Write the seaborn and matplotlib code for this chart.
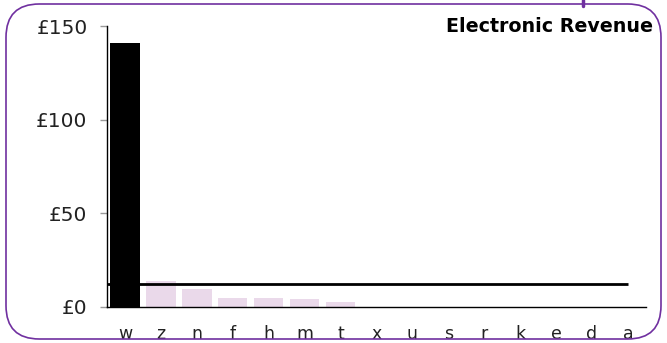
import numpy as np
import pandas as pd
import matplotlib
matplotlib.use("Agg")
import matplotlib.pyplot as plt
from matplotlib.patches import FancyBboxPatch
import seaborn as sns

# data
categories = ["w", "z", "n", "f", "h", "m", "t", "x", "u", "s", "r", "k", "e", "d", "a"]
revenue    = [141.0, 13.9, 9.6, 5.0, 4.6, 4.1, 2.7, 0, 0, 0, 0, 0, 0, 0, 0]
y_ticks    = [0, 50, 100, 150]
title      = "Electronic Revenue"

BAR_MAIN  = "#000000"
BAR_OTHER = "#ead9ea"
PURPLE    = "#7030a0"

sns.set_style("white")
plt.rcParams["font.family"] = ["DejaVu Sans"]

df = pd.DataFrame({"cat": categories, "rev": revenue})
palette = {c: (BAR_MAIN if i == 0 else BAR_OTHER) for i, c in enumerate(categories)}

fig = plt.figure(figsize=(6.67, 3.43), dpi=100)
ax = fig.add_axes([0.1604, 0.105, 0.808, 0.819])

sns.barplot(data=df, x="cat", y="rev", hue="cat", palette=palette,
            order=categories, legend=False, width=0.82, saturation=1,
            linewidth=0, ax=ax, zorder=2)

avg = np.mean(revenue)
ax.hlines(avg, -0.5, len(categories) - 1, color="black", lw=2, zorder=3)

ax.set_xlim(-0.5, len(categories) - 0.5)
ax.set_ylim(0, 150)
ax.set_yticks(y_ticks)
ax.set_yticklabels([f"£{v}" for v in y_ticks], fontsize=14.5, color="#222222")
ax.tick_params(axis="y", length=5, width=1, color="#999999", pad=9, left=True)
ax.tick_params(axis="x", length=0, pad=13, labelsize=12.5, labelcolor="#222222")
ax.set_xlabel("")
ax.set_ylabel("")
for s in ["top", "right"]:
    ax.spines[s].set_visible(False)
ax.spines["left"].set_color("black")
ax.spines["left"].set_linewidth(1)
ax.spines["bottom"].set_color("black")
ax.spines["bottom"].set_linewidth(1)
ax.grid(False)

fig.text(653 / 667, 1 - 27 / 343, title, ha="right", va="center",
         fontsize=13.7, fontweight="bold", color="black")

# rounded purple frame
frame = FancyBboxPatch((6 / 667, 4 / 343), 655 / 667, 335 / 343,
                       boxstyle="round,pad=0,rounding_size=0.05",
                       transform=fig.transFigure, fill=False,
                       edgecolor=PURPLE, lw=1.2, mutation_aspect=667 / 343)
fig.patches.append(frame)
fig.add_artist(plt.Line2D([583 / 667, 583 / 667], [1, 1 - 6 / 343],
                          transform=fig.transFigure, color=PURPLE, lw=2.5))

fig.savefig("out.png", dpi=100)
